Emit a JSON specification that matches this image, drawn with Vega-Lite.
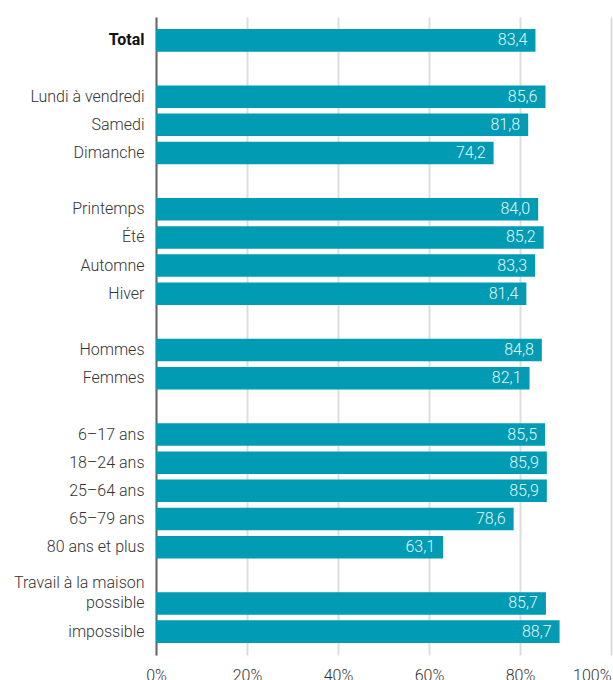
{
  "$schema": "https://vega.github.io/schema/vega-lite/v6.json",
  "autosize": {"type": "none"},
  "padding": {"left": 156, "top": 17, "right": 2, "bottom": 25},
  "width": 455,
  "height": 638,
  "background": "white",
  "config": {
    "view": {"stroke": null},
    "locale": {"number": {"decimal": ",", "thousands": " ", "grouping": [3], "currency": ["", " €"]}},
    "font": "Roboto"
  },
  "data": {
    "values": [
      {"cat": "Total", "value": 83.4},
      {"cat": "Lundi à vendredi", "value": 85.6},
      {"cat": "Samedi", "value": 81.8},
      {"cat": "Dimanche", "value": 74.2},
      {"cat": "Printemps", "value": 84.0},
      {"cat": "Été", "value": 85.2},
      {"cat": "Automne", "value": 83.3},
      {"cat": "Hiver", "value": 81.4},
      {"cat": "Hommes", "value": 84.8},
      {"cat": "Femmes", "value": 82.1},
      {"cat": "6–17 ans", "value": 85.5},
      {"cat": "18–24 ans", "value": 85.9},
      {"cat": "25–64 ans", "value": 85.9},
      {"cat": "65–79 ans", "value": 78.6},
      {"cat": "80 ans et plus", "value": 63.1},
      {"cat": "possible", "value": 85.7},
      {"cat": "impossible", "value": 88.7}
    ]
  },
  "encoding": {
    "y": {
      "field": "cat",
      "type": "nominal",
      "sort": null,
      "scale": {
        "domain": ["Total", "_g1", "Lundi à vendredi", "Samedi", "Dimanche", "_g2", "Printemps", "Été", "Automne", "Hiver", "_g3", "Hommes", "Femmes", "_g4", "6–17 ans", "18–24 ans", "25–64 ans", "65–79 ans", "80 ans et plus", "Travail à la maison", "possible", "impossible"],
        "paddingInner": 0.2,
        "paddingOuter": 0.43
      },
      "axis": {
        "title": null,
        "ticks": false,
        "domainColor": "#666666",
        "domainWidth": 2,
        "labelPadding": 12,
        "labelFont": "Roboto",
        "labelFontSize": 16,
        "labelColor": {"condition": {"test": "datum.value == 'Total'", "value": "#111111"}, "value": "#333333"},
        "labelFontWeight": {"condition": {"test": "datum.value == 'Total'", "value": "bold"}, "value": 300},
        "labelBaseline": {"condition": {"test": "datum.value == 'Travail à la maison'", "value": "top"}, "value": "middle"},
        "labelExpr": "indexof(datum.value, '_g') == 0 ? '' : datum.value"
      }
    },
    "x": {
      "field": "value",
      "type": "quantitative",
      "scale": {"domain": [0, 100]},
      "axis": {
        "title": null,
        "values": [0, 20, 40, 60, 80, 100],
        "labelExpr": "datum.value + '%'",
        "domain": false,
        "ticks": false,
        "grid": true,
        "gridColor": "#dddddd",
        "gridWidth": 2,
        "labelPadding": 12,
        "labelFont": "Roboto",
        "labelFontSize": 16,
        "labelFontWeight": 300,
        "labelColor": "#333333",
        "labelFlush": false,
        "labelAlign": {"condition": {"test": "datum.value == 100", "value": "right"}, "value": "center"}
      }
    }
  },
  "layer": [
    {"mark": {"type": "bar", "color": "#019bb4"}},
    {
      "mark": {"type": "text", "align": "right", "baseline": "middle", "dx": -8, "font": "Roboto", "fontSize": 16, "fontWeight": 300, "color": "#e4f6f8"},
      "encoding": {"text": {"field": "value", "type": "quantitative", "format": ".1f"}}
    }
  ]
}
